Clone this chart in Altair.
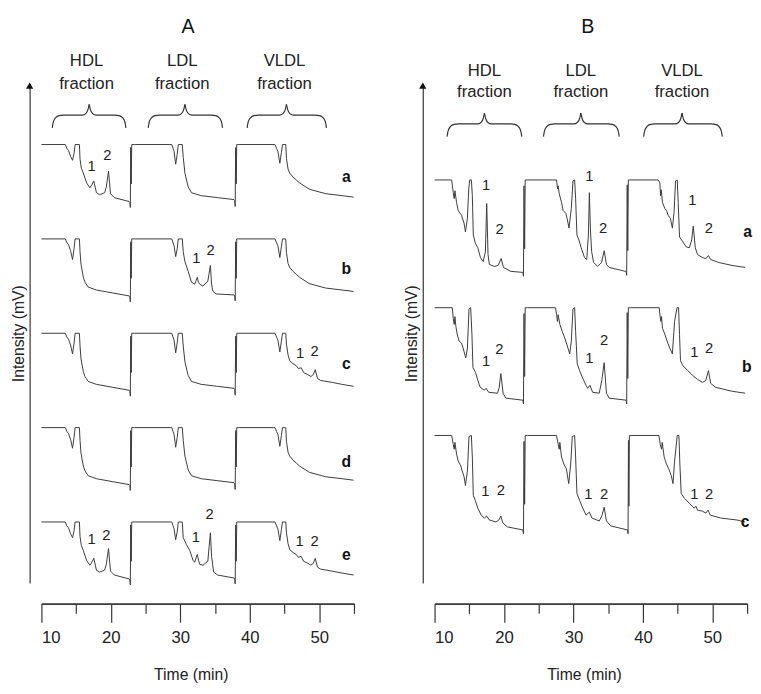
import altair as alt
import pandas as pd

FONT = "Liberation Sans"
INK = "#333333"

# ---------------- Panel A : fraction segments (time min, signal; 60 = saturated top) ----------------
A_HDL_PLAIN_T = [10.0, 13.44, 13.67, 13.9, 14.2, 14.48, 14.7, 14.85, 15.47, 15.56, 15.7, 16.03, 16.27,
                 16.74, 17.92, 20.27, 22.64, 22.74, 22.8, 22.86, 22.93, 23.0, 23.34]
A_HDL_PLAIN_V = [60, 60, 56, 54, 48, 39, 50, 60, 60, 47, 34, 21, 16, 11, 8, 5, 2, 1, -4, 57, 20, 60, 60]

A_HDL_PEAK_T = [10.0, 13.44, 13.67, 13.9, 14.2, 14.48, 14.7, 14.85, 15.47, 15.56, 15.75, 16.03, 16.5,
                16.98, 17.25, 17.54, 17.92, 18.39, 19.1, 19.35, 19.66, 19.95, 20.51, 22.64, 22.74, 22.8,
                22.86, 22.93, 23.0, 23.34]
A_HDL_PEAK_V = [60, 60, 56, 54, 48, 44, 51, 60, 60, 45, 36, 31, 21, 16, 19, 23, 11, 9, 11, 17, 33, 10,
                6, 2, 1, -4, 57, 20, 60, 60]

A_LDL_PLAIN_T = [23.45, 28.77, 28.95, 29.1, 29.33, 29.55, 29.71, 30.28, 30.42, 30.66, 31.13, 31.6,
                 33.01, 35.37, 37.73, 37.83, 37.9, 37.97, 38.05, 38.12, 38.3]
A_LDL_PLAIN_V = [60, 60, 56, 53, 40, 50, 60, 60, 47, 31, 17, 11, 8, 6, 4, 3, -3, 57, 20, 60, 60]

A_LDL_PEAK_B_T = [23.45, 28.77, 28.95, 29.1, 29.33, 29.55, 29.71, 30.28, 30.42, 30.66, 31.13, 31.6,
                  32.07, 32.3, 32.45, 32.6, 32.78, 33.25, 33.96, 34.12, 34.33, 34.5, 34.66, 35.14,
                  37.73, 37.83, 37.9, 37.97, 38.05, 38.12, 38.3]
A_LDL_PEAK_B_V = [60, 60, 56, 53, 42, 50, 60, 60, 47, 37, 27, 16, 14, 18, 21, 16, 14, 12, 17, 24, 33,
                  14, 7, 4, 3, 2, -3, 57, 20, 60, 60]

A_LDL_PEAK_E_T = [23.45, 28.77, 28.95, 29.1, 29.33, 29.55, 29.71, 30.28, 30.42, 30.89, 31.36, 31.83,
                  32.07, 32.3, 32.45, 32.62, 32.78, 33.25, 33.96, 34.15, 34.33, 34.5, 34.8, 35.37,
                  37.73, 37.83, 37.9, 37.97, 38.05, 38.12, 38.3]
A_LDL_PEAK_E_V = [60, 60, 56, 53, 42, 50, 60, 60, 44, 37, 31, 21, 19, 24, 27, 21, 17, 16, 20, 35, 49,
                  25, 9, 6, 3, 2, -3, 57, 20, 60, 60]

A_VLDL_PLAIN_T = [38.4, 43.63, 43.86, 44.05, 44.33, 44.55, 44.71, 45.18, 45.28, 45.51, 45.75, 46.22,
                  46.69, 47.16, 48.58, 50.93, 53.29, 54.95]
A_VLDL_PLAIN_V = [60, 60, 56, 53, 41, 52, 60, 60, 46, 35, 31, 27, 24, 21, 14.5, 10, 8, 6.5]

A_VLDL_PEAK_T = [38.4, 43.63, 43.86, 44.05, 44.33, 44.55, 44.71, 45.18, 45.28, 45.51, 45.75, 46.22,
                 46.69, 47.0, 47.4, 47.75, 48.34, 48.81, 49.15, 49.43, 49.75, 50.2, 51.88, 53.29, 54.95]
A_VLDL_PEAK_V = [60, 60, 56, 53, 41, 52, 60, 60, 49, 38, 32, 29, 27, 24, 25, 20, 18, 16, 18, 23, 14,
                 12, 10, 8, 6]

A_TRACES = ["a", "b", "c", "d", "e"]
A_OFFSETS = [386, 290, 194, 98, 2]
A_COMPOSITION = {
    "a": [(A_HDL_PEAK_T, A_HDL_PEAK_V), (A_LDL_PLAIN_T, A_LDL_PLAIN_V), (A_VLDL_PLAIN_T, A_VLDL_PLAIN_V)],
    "b": [(A_HDL_PLAIN_T, A_HDL_PLAIN_V), (A_LDL_PEAK_B_T, A_LDL_PEAK_B_V), (A_VLDL_PLAIN_T, A_VLDL_PLAIN_V)],
    "c": [(A_HDL_PLAIN_T, A_HDL_PLAIN_V), (A_LDL_PLAIN_T, A_LDL_PLAIN_V), (A_VLDL_PEAK_T, A_VLDL_PEAK_V)],
    "d": [(A_HDL_PLAIN_T, A_HDL_PLAIN_V), (A_LDL_PLAIN_T, A_LDL_PLAIN_V), (A_VLDL_PLAIN_T, A_VLDL_PLAIN_V)],
    "e": [(A_HDL_PEAK_T, A_HDL_PEAK_V), (A_LDL_PEAK_E_T, A_LDL_PEAK_E_V), (A_VLDL_PEAK_T, A_VLDL_PEAK_V)],
}

# ---------------- Panel B : full traces (signal; 96 = saturated top) ----------------
B_A_T = [10.0, 12.46, 12.69, 12.83, 12.93, 13.17, 13.4, 13.88, 14.25, 14.45, 14.73, 14.92, 15.06, 15.3,
         15.44, 15.58, 15.86, 16.23, 16.61, 17.0, 17.32, 17.51, 17.7, 17.89, 18.6, 19.16, 19.59, 19.92,
         20.96, 22.61, 22.72, 22.8, 22.88, 22.97, 23.05, 23.41,
         27.56, 27.71, 27.8, 27.95, 28.28, 28.51, 28.9, 29.08, 29.36, 29.69, 29.93, 30.17, 30.31, 30.5,
         30.78, 31.11, 31.59, 31.91, 32.15, 32.29, 32.45, 32.62, 32.9, 33.47, 34.04, 34.42, 34.75, 35.13,
         36.3, 37.48, 37.58, 37.66, 37.74, 37.82, 37.9, 38.1,
         42.21, 42.44, 42.54, 42.63, 42.82, 43.15, 43.39, 43.63, 43.95, 44.24, 44.48, 44.7, 44.94, 45.08,
         45.27, 45.75, 46.22, 46.69, 47.02, 47.25, 47.54, 47.87, 48.58, 49.05, 49.43, 49.76, 50.93,
         52.83, 54.72]
B_A_V = [96, 96, 83, 77, 85, 73, 65, 60, 52, 43, 57, 87, 96, 96, 80, 40, 32, 27, 17, 13, 23, 72, 20, 10,
         8, 9, 16, 7, 3, 2, 2, -2, 90, 26, 96, 96,
         96, 87, 90, 82, 73, 65, 62, 57, 47, 67, 95, 96, 77, 40, 35, 27, 17, 15, 40, 83, 44, 23, 12, 8,
         12, 24, 10, 7, 5, 3, 3, -1, 91, 24, 96, 96,
         96, 93, 80, 86, 73, 67, 65, 60, 57, 47, 63, 95, 96, 73, 38, 33, 28, 27, 35, 49, 27, 20, 17, 16,
         19, 15, 12, 9, 7]

B_B_T = [10.0, 12.55, 12.69, 12.83, 12.93, 13.07, 13.26, 13.54, 13.88, 14.11, 14.49, 14.73, 14.96, 15.2,
         15.38, 15.53, 15.91, 16.23, 16.57, 17.18, 17.42, 17.79, 19.07, 19.31, 19.54, 19.87, 20.25, 22.61,
         22.72, 22.8, 22.88, 22.97, 23.05, 23.4,
         27.42, 27.56, 27.71, 27.8, 28.04, 28.37, 28.75, 29.12, 29.46, 29.69, 29.93, 30.17, 30.31, 30.54,
         30.88, 31.35, 31.81, 32.05, 32.38, 32.76, 33.71, 34.08, 34.42, 34.75, 35.13, 37.48, 37.58, 37.66,
         37.74, 37.82, 37.9, 38.2,
         42.35, 42.44, 42.58, 42.68, 42.82, 43.15, 43.48, 43.86, 44.24, 44.56, 44.9, 45.13, 45.27, 45.41,
         45.75, 46.46, 47.17, 47.87, 48.58, 49.05, 49.43, 49.76, 50.47, 52.83, 54.72]
B_B_V = [96, 96, 85, 79, 87, 77, 69, 62, 60, 55, 45, 55, 95, 96, 69, 35, 30, 22, 15, 12, 14, 10, 9, 15,
         29, 9, 4, 2, 2, -2, 90, 26, 96, 96,
         96, 89, 82, 89, 79, 72, 65, 57, 49, 62, 95, 96, 72, 39, 32, 24, 17, 14, 17, 10, 9, 22, 40, 9, 4,
         2, 2, -2, 91, 24, 96, 96,
         96, 89, 82, 87, 75, 69, 62, 55, 49, 82, 96, 96, 69, 42, 37, 32, 27, 23, 20, 22, 32, 19, 15, 11, 9]

B_C_T = [10.0, 12.46, 12.69, 12.83, 12.93, 13.17, 13.4, 13.78, 13.97, 14.25, 14.45, 14.73, 14.96, 15.3,
         15.44, 15.58, 15.86, 16.23, 16.71, 17.18, 17.51, 17.89, 18.84, 19.26, 19.54, 19.83, 20.48, 22.61,
         22.72, 22.8, 22.88, 22.97, 23.05, 23.4,
         27.56, 27.8, 27.95, 28.04, 28.28, 28.61, 28.98, 29.32, 29.6, 29.83, 30.17, 30.31, 30.5, 30.88,
         31.35, 31.81, 32.29, 32.66, 33.71, 34.08, 34.42, 34.75, 35.35, 37.72, 37.8, 37.86, 37.92, 37.98,
         38.05, 38.3,
         42.3, 42.49, 42.68, 42.78, 43.06, 43.39, 43.72, 44.09, 44.33, 44.56, 44.94, 45.18, 45.32, 45.51,
         45.98, 46.69, 47.39, 47.63, 47.87, 48.58, 49.05, 49.38, 49.7, 51.18, 53.54, 54.72]
B_C_V = [96, 96, 87, 82, 89, 77, 70, 65, 60, 54, 45, 60, 95, 96, 74, 35, 30, 22, 15, 12, 14, 10, 8, 10,
         14, 7, 3, 0, 0, -4, 90, 26, 96, 96,
         96, 87, 82, 89, 74, 67, 62, 47, 67, 95, 96, 74, 37, 30, 22, 15, 18, 12, 9, 14, 23, 9, 4, 0, 0,
         -4, 91, 24, 96, 96,
         96, 87, 82, 89, 74, 67, 62, 55, 47, 70, 96, 96, 67, 37, 32, 27, 22, 24, 20, 19, 17, 20, 15, 12,
         10, 8]

B_TRACES = ["a", "b", "c"]
B_OFFSETS = [314, 184, 54]
B_SERIES = {"a": (B_A_T, B_A_V), "b": (B_B_T, B_B_V), "c": (B_C_T, B_C_V)}

# ---------------- annotations ----------------
A_PEAK_T = [17.22, 19.48, 32.3, 34.34, 47.26, 49.34, 17.22, 19.34, 32.22, 34.2, 47.16, 49.34]
A_PEAK_Y = [424, 435, 330, 339, 234, 236, 45, 49, 47, 70, 43, 43]
A_PEAK_LBL = ["1", "2", "1", "2", "1", "2", "1", "2", "1", "2", "1", "2"]

B_PEAK_T = [17.42, 19.38, 32.3, 34.25, 47.11, 49.48,
            17.42, 19.31, 32.3, 34.42, 47.39, 49.52,
            17.32, 19.55, 32.15, 34.42, 47.39, 49.52]
B_PEAK_Y = [405, 360, 414, 361, 389, 361,
            226, 238, 229, 247, 235, 239,
            93, 94, 90, 90, 90, 90]
B_PEAK_LBL = ["1", "2"] * 9

A_ROW_T = 53.9
A_ROW_Y = [413, 319, 223, 123, 28]
B_ROW_T = [55.07, 54.96, 54.72]
B_ROW_Y = [357, 220, 62]

FRACTIONS = ["HDL", "LDL", "VLDL"]
A_HEAD_T = [16.5, 30.28, 45.0]
B_HEAD_T = [17.18, 31.06, 45.63]
A_HEAD_Y = (531, 508)
B_HEAD_Y = (521, 499)

A_BRACE = {"start": [11.56, 25.37, 39.62], "cusp": [16.88, 30.66, 45.28], "end": [22.17, 36.08, 51.04]}
B_BRACE = {"start": [11.8, 25.68, 40.1], "cusp": [17.18, 31.06, 45.63], "end": [22.56, 36.59, 51.43]}
A_BRACE_Y = (463, 476, 487)
B_BRACE_Y = (454, 467, 478)

A_TITLE = (31.1, 565)
B_TITLE = (32.05, 565)

X_DOMAIN = [10, 55]
Y_DOMAIN = [0, 508]
MAJOR = [10, 20, 30, 40, 50]
MINOR = [15, 25, 35, 45, 55]


def trace_frame(names, offsets, series):
    rows = []
    for name, off in zip(names, offsets):
        i = 0
        for T, V in series[name]:
            for t, v in zip(T, V):
                rows.append({"trace": name, "i": i, "t": t, "y": off + v})
                i += 1
    return pd.DataFrame(rows)


def brace_frame(br, levels):
    y_end, y_body, y_cusp = levels
    rows = []
    for k, (s, c, e) in enumerate(zip(br["start"], br["cusp"], br["end"])):
        left_x = [s, s + 0.15, s + 0.5, s + 1.0, s + 1.6, c - 1.0, c - 0.5, c - 0.2, c]
        left_y = [y_end, y_body - 7, y_body - 2.5, y_body - 0.5, y_body, y_body, y_body + 1.5,
                  y_body + 5, y_cusp]
        right_x = [c, c + 0.2, c + 0.5, c + 1.0, e - 1.6, e - 1.0, e - 0.5, e - 0.15, e]
        right_y = left_y[::-1]
        for j, (xx, yy) in enumerate(zip(left_x, left_y)):
            rows.append({"part": f"{k}L", "i": j, "t": xx, "y": yy})
        for j, (xx, yy) in enumerate(zip(right_x, right_y)):
            rows.append({"part": f"{k}R", "i": j, "t": xx, "y": yy})
    return pd.DataFrame(rows)


def y_enc(field="y:Q"):
    return alt.Y(field, scale=alt.Scale(domain=Y_DOMAIN, nice=False, zero=False),
                 axis=alt.Axis(title="Intensity (mV)", ticks=False, labels=False, grid=False,
                               domain=True, domainColor=INK, domainWidth=1.2, offset=12,
                               titleFontSize=16, titleFontWeight="normal", titleColor="#222222",
                               titlePadding=3, titleFont=FONT))


def x_enc(axis):
    return alt.X("t:Q", scale=alt.Scale(domain=X_DOMAIN, nice=False, zero=False), axis=axis)


major_axis = alt.Axis(values=MAJOR, tickSize=19, tickColor=INK, tickWidth=1.2, domainColor=INK,
                      domainWidth=1.2, labelFontSize=17, labelColor="#222222", labelPadding=8,
                      labelFont=FONT, grid=False, offset=21, orient="bottom", title="Time (min)",
                      titleFontSize=16, titleFontWeight="normal", titleColor="#222222", titlePadding=21,
                      titleFont=FONT, titleX=152)
minor_axis = alt.Axis(values=MINOR, tickSize=10, tickColor=INK, tickWidth=1.2, domainColor=INK,
                      domainWidth=1.2, labels=False, grid=False, offset=21, orient="bottom", title=None)


def panel(traces_df, peaks_df, rows_df, heads_df, braces_df, title_df):
    lines = alt.Chart(traces_df).mark_line(color="#3a3a3a", strokeWidth=1, clip=False).encode(
        x=x_enc(major_axis), y=y_enc(), detail="trace:N", order=alt.Order("i:Q"))
    braces = alt.Chart(braces_df).mark_line(color=INK, strokeWidth=1.2, interpolate="monotone").encode(
        x=x_enc(minor_axis), y=y_enc(), detail="part:N", order=alt.Order("i:Q"))
    peaks = alt.Chart(peaks_df).mark_text(font=FONT, fontSize=15, color="#222222").encode(
        x=x_enc(None), y=y_enc(), text="label:N")
    rows = alt.Chart(rows_df).mark_text(font=FONT, fontSize=16, fontWeight="bold", color="#111111").encode(
        x=x_enc(None), y=y_enc(), text="label:N")
    heads = alt.Chart(heads_df).mark_text(font=FONT, fontSize=17, color="#222222").encode(
        x=x_enc(None), y=y_enc(), text="label:N")
    title = alt.Chart(title_df).mark_text(font=FONT, fontSize=20, color="#111111").encode(
        x=x_enc(None), y=y_enc(), text="label:N")
    arrow = alt.Chart(pd.DataFrame({"k": [0]})).mark_point(
        shape="triangle-up", filled=True, size=55, color="#111111", opacity=1).encode(
        x=alt.value(-12), y=alt.value(2))
    return alt.layer(lines, braces, peaks, rows, heads, title, arrow).resolve_axis(
        x="independent").properties(width=318, height=508)


def head_frame(ts, levels):
    rows = []
    for name, t in zip(FRACTIONS, ts):
        rows.append({"t": t, "y": levels[0], "label": name})
        rows.append({"t": t, "y": levels[1], "label": "fraction"})
    return pd.DataFrame(rows)


a_traces = trace_frame(A_TRACES, A_OFFSETS, A_COMPOSITION)
b_traces = trace_frame(B_TRACES, B_OFFSETS, {k: [v] for k, v in B_SERIES.items()})

panel_a = panel(
    a_traces,
    pd.DataFrame({"t": A_PEAK_T, "y": A_PEAK_Y, "label": A_PEAK_LBL}),
    pd.DataFrame({"t": [A_ROW_T] * 5, "y": A_ROW_Y, "label": A_TRACES}),
    head_frame(A_HEAD_T, A_HEAD_Y),
    brace_frame(A_BRACE, A_BRACE_Y),
    pd.DataFrame({"t": [A_TITLE[0]], "y": [A_TITLE[1]], "label": ["A"]}))
panel_b = panel(
    b_traces,
    pd.DataFrame({"t": B_PEAK_T, "y": B_PEAK_Y, "label": B_PEAK_LBL}),
    pd.DataFrame({"t": B_ROW_T, "y": B_ROW_Y, "label": B_TRACES}),
    head_frame(B_HEAD_T, B_HEAD_Y),
    brace_frame(B_BRACE, B_BRACE_Y),
    pd.DataFrame({"t": [B_TITLE[0]], "y": [B_TITLE[1]], "label": ["B"]}))

chart = alt.hconcat(panel_a, panel_b, spacing=49).properties(
    padding={"left": 3, "top": 3, "right": 1, "bottom": 1}
).configure(font=FONT).configure_view(stroke=None)

chart.save("out.html", embed_options={"renderer": "svg", "actions": False})
